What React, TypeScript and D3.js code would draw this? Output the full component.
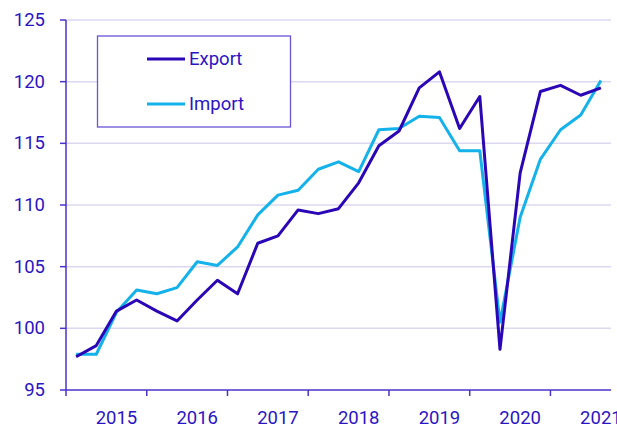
import React from "react";
import * as d3 from "d3";

const quarters = [
  "2015Q1","2015Q2","2015Q3","2015Q4",
  "2016Q1","2016Q2","2016Q3","2016Q4",
  "2017Q1","2017Q2","2017Q3","2017Q4",
  "2018Q1","2018Q2","2018Q3","2018Q4",
  "2019Q1","2019Q2","2019Q3","2019Q4",
  "2020Q1","2020Q2","2020Q3","2020Q4",
  "2021Q1","2021Q2","2021Q3",
];
const exportValues = [
  97.7, 98.6, 101.4, 102.3, 101.4, 100.6, 102.3, 103.9,
  102.8, 106.9, 107.5, 109.6, 109.3, 109.7, 111.8, 114.8,
  116.0, 119.5, 120.8, 116.2, 118.8, 98.3, 112.6, 119.2,
  119.7, 118.9, 119.5,
];
const importValues = [
  97.9, 97.9, 101.3, 103.1, 102.8, 103.3, 105.4, 105.1,
  106.6, 109.2, 110.8, 111.2, 112.9, 113.5, 112.7, 116.1,
  116.2, 117.2, 117.1, 114.4, 114.4, 100.5, 109.0, 113.7,
  116.1, 117.3, 120.1,
];
const yTicks = [95, 100, 105, 110, 115, 120, 125];
const yearLabels = ["2015", "2016", "2017", "2018", "2019", "2020", "2021"];
const seriesNames = ["Export", "Import"];

const W = 617;
const H = 425;
const left = 66;
const right = 611;
const top = 20;
const bottom = 390;

const AXIS = "#4a32cc";
const TEXT = "#2a14c4";
const GRID = "#dcd8f2";
const EXPORT_C = "#2a06b6";
const IMPORT_C = "#14b2ea";
const FONT = "Roboto, 'Noto Sans', sans-serif";

export default function App() {
  const x = d3.scaleBand<string>().domain(quarters).range([left, right]).padding(0);
  const y = d3.scaleLinear().domain([95, 125]).range([bottom, top]);
  const cx = (q: string) => (x(q) as number) + x.bandwidth() / 2;

  const line = d3
    .line<number>()
    .x((_, i) => cx(quarters[i]))
    .y((d) => y(d));

  const tickIdx = quarters.map((_, i) => i).filter((i) => i % 4 === 0);

  return (
    <svg
      width={W}
      height={H}
      style={{ position: "absolute", left: 0, top: 0, background: "#fff" }}
      fontFamily={FONT}
    >
      {yTicks.map((t) => (
        <g key={t}>
          {t !== 95 && (
            <line x1={left} x2={right} y1={y(t)} y2={y(t)} stroke={GRID} strokeWidth={1.5} />
          )}
          <line x1={left - 6} x2={left} y1={y(t)} y2={y(t)} stroke={AXIS} strokeWidth={1.5} />
          <text
            x={45}
            y={y(t)}
            textAnchor="end"
            dominantBaseline="central"
            fontSize={18.5}
            fill={TEXT}
          >
            {t}
          </text>
        </g>
      ))}
      <line x1={left} x2={left} y1={top} y2={bottom} stroke={AXIS} strokeWidth={1.5} />
      <line x1={left} x2={right} y1={bottom} y2={bottom} stroke={AXIS} strokeWidth={1.5} />
      {tickIdx.map((i) => (
        <line
          key={i}
          x1={x(quarters[i]) as number}
          x2={x(quarters[i]) as number}
          y1={bottom}
          y2={bottom + 6}
          stroke={AXIS}
          strokeWidth={1.5}
        />
      ))}
      {yearLabels.map((lab, k) => (
        <text
          key={lab}
          x={cx(quarters[k * 4 + 2])}
          y={424}
          textAnchor="middle"
          fontSize={18.5}
          fill={TEXT}
        >
          {lab}
        </text>
      ))}
      <path d={line(importValues) || ""} fill="none" stroke={IMPORT_C} strokeWidth={3} strokeLinejoin="round" />
      <path d={line(exportValues) || ""} fill="none" stroke={EXPORT_C} strokeWidth={3} strokeLinejoin="round" />

      <rect x={97.5} y={36} width={193} height={91} fill="#fff" stroke="#6a54d6" strokeWidth={1.3} />
      {seriesNames.map((n, k) => (
        <g key={n}>
          <line
            x1={147}
            x2={185}
            y1={59 + k * 45}
            y2={59 + k * 45}
            stroke={k === 0 ? EXPORT_C : IMPORT_C}
            strokeWidth={3}
          />
          <text x={189} y={59 + k * 45} dominantBaseline="central" fontSize={18.5} fill={TEXT}>
            {n}
          </text>
        </g>
      ))}
    </svg>
  );
}
